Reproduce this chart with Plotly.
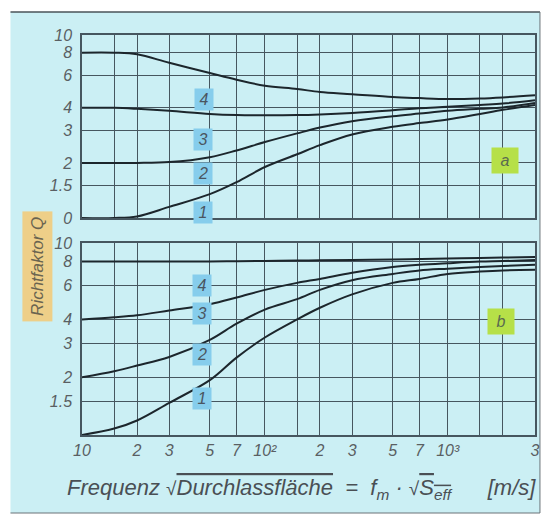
import numpy as np
import plotly.graph_objects as go

# ---------------- data ----------------
x_vals = [10, 15, 20, 30, 50, 70, 100, 150, 200, 300, 500, 700, 1000, 1500, 2000, 3000]

# panel a
a_curve1 = [1.0, 1.0, 1.02, 1.15, 1.35, 1.57, 1.9, 2.23, 2.5, 2.86, 3.15, 3.3, 3.45, 3.7, 3.9, 4.15]
a_curve2 = [2.0, 2.0, 2.0, 2.02, 2.15, 2.34, 2.6, 2.9, 3.12, 3.38, 3.6, 3.72, 3.85, 3.95, 4.02, 4.25]
a_curve3 = [4.0, 4.0, 3.95, 3.85, 3.7, 3.65, 3.64, 3.65, 3.68, 3.75, 3.88, 3.98, 4.05, 4.15, 4.22, 4.4]
a_curve4 = [8.0, 8.0, 7.85, 7.05, 6.2, 5.7, 5.28, 5.07, 4.88, 4.75, 4.58, 4.52, 4.47, 4.5, 4.56, 4.68]

# panel b
b_curve1 = [1.0, 1.08, 1.19, 1.47, 1.93, 2.53, 3.22, 4.0, 4.6, 5.4, 6.2, 6.5, 6.9, 7.1, 7.2, 7.25]
b_curve2 = [2.0, 2.15, 2.3, 2.55, 3.13, 3.8, 4.5, 5.1, 5.7, 6.4, 6.9, 7.2, 7.35, 7.5, 7.6, 7.7]
b_curve3 = [4.0, 4.1, 4.2, 4.45, 4.8, 5.2, 5.7, 6.2, 6.5, 7.0, 7.5, 7.7, 7.85, 8.0, 8.05, 8.15]
b_curve4 = [8.0, 8.0, 8.0, 8.0, 8.02, 8.04, 8.06, 8.1, 8.12, 8.15, 8.2, 8.25, 8.3, 8.35, 8.4, 8.45]

curve_labels = ["1", "2", "3", "4"]
panel_labels = ["a", "b"]

x_tickvals = [10, 20, 30, 50, 70, 100, 200, 300, 500, 700, 1000, 3000]
x_ticktext = ["10", "2", "3", "5", "7", "10²", "2", "3", "5", "7", "10³", "3"]
x_minor_grid = [15, 150, 1500, 2000]
y_tickvals_a = [1, 1.5, 2, 3, 4, 6, 8, 10]
y_ticktext_a = ["0", "1.5", "2", "3", "4", "6", "8", "10"]
y_tickvals_b = [1.5, 2, 3, 4, 6, 8, 10]
y_ticktext_b = ["1.5", "2", "3", "4", "6", "8", "10"]

y_title = "Richtfaktor Q"
SP = "&nbsp;"
x_title = ("Frequenz" + SP + "<span style='font-size:19px'>√</span>"
           "<span style='text-decoration:overline'>Durchlassfläche</span>"
           + SP * 2 + "=" + SP * 2 + "f<sub>m</sub>" + SP + "·" + SP
           + "<span style='font-size:19px'>√</span>"
           "<span style='text-decoration:overline'>S<sub>eff</sub></span>"
           + SP * 6 + "[m/s]")

# ---------------- style ----------------
BG = "#cbeff4"
GRID = "#46565f"
CURVE = "#1c262c"
TXT = "#5a5f63"
FONT = "Liberation Sans"

fig = go.Figure()

for ys in [a_curve1, a_curve2, a_curve3, a_curve4]:
    fig.add_trace(go.Scatter(x=x_vals, y=ys, mode="lines", xaxis="x", yaxis="y",
                             line=dict(color=CURVE, width=2, shape="spline", smoothing=1.0),
                             hoverinfo="skip", showlegend=False))
for ys in [b_curve1, b_curve2, b_curve3, b_curve4]:
    fig.add_trace(go.Scatter(x=x_vals, y=ys, mode="lines", xaxis="x2", yaxis="y2",
                             line=dict(color=CURVE, width=2, shape="spline", smoothing=1.0),
                             hoverinfo="skip", showlegend=False))

tickfont = dict(family=FONT, size=16, color=TXT, style="italic")

xcommon = dict(type="log", range=[1, np.log10(3000)], tickmode="array", tickvals=x_tickvals,
               ticktext=x_ticktext, showgrid=True, gridcolor=GRID, gridwidth=1,
               minor=dict(tickmode="array", tickvals=x_minor_grid, showgrid=True,
                          gridcolor=GRID, gridwidth=1, ticks=""),
               showline=True, linecolor=GRID, linewidth=1.5, mirror=True, zeroline=False,
               ticks="", tickfont=tickfont)
ycommon = dict(type="log", range=[0, 1], tickmode="array",
               showgrid=True, gridcolor=GRID, gridwidth=1, showline=True, linecolor=GRID,
               linewidth=1.5, mirror=True, zeroline=False, ticks="outside", ticklen=5,
               tickcolor="rgba(0,0,0,0)", tickfont=tickfont)

L, R, T, B = 82, 14, 35, 84
W, H = 552, 519
PW, PH = W - L - R, H - T - B


def px(xp):
    return (xp - L) / PW


def py(yp):
    return (H - B - yp) / PH


fig.update_layout(
    width=W, height=H,
    margin=dict(l=L, r=R, t=T, b=B),
    paper_bgcolor="white",
    plot_bgcolor="rgba(0,0,0,0)",
    xaxis=dict(xcommon, anchor="y", showticklabels=False),
    yaxis=dict(ycommon, domain=[py(218), 1.0], tickvals=y_tickvals_a, ticktext=y_ticktext_a, anchor="x"),
    xaxis2=dict(xcommon, anchor="y2"),
    yaxis2=dict(ycommon, domain=[0, py(243)], tickvals=y_tickvals_b, ticktext=y_ticktext_b, anchor="x2"),
    showlegend=False,
)

shapes = [
    dict(type="rect", xref="paper", yref="paper", x0=px(10), x1=px(543), y0=py(513), y1=py(12),
         fillcolor=BG, line=dict(width=0), layer="below"),
    dict(type="line", xref="paper", yref="paper", x0=px(10), x1=px(543), y0=py(12), y1=py(12),
         line=dict(color="#4a5358", width=1.5)),
    dict(type="line", xref="paper", yref="paper", x0=px(543), x1=px(543), y0=py(12), y1=py(513),
         line=dict(color="#6a7378", width=1)),
    dict(type="line", xref="paper", yref="paper", x0=px(10), x1=px(543), y0=py(513), y1=py(513),
         line=dict(color="#6a7378", width=1)),
]
fig.update_layout(shapes=shapes)

annotations = []
label_font = dict(family=FONT, size=16, color="#4a5560", style="italic")
top_pos = [(194, 213), (194, 173), (194, 128), (195, 88)]
bot_pos = [(193, 410), (193, 366), (193, 325), (193, 285)]
for pos in (top_pos, bot_pos):
    for lab, (xx, yy) in zip(curve_labels, pos):
        annotations.append(dict(x=px(xx), y=py(yy), xref="paper", yref="paper", text=lab,
                                showarrow=False, font=label_font, bgcolor="#86cdec",
                                borderpad=1, width=16, height=19))
for lab, (xx, yy) in zip(panel_labels, [(522, 147), (518, 335)]):
    annotations.append(dict(x=px(xx), y=py(yy), xref="paper", yref="paper",
                            text=SP + lab + SP,
                            showarrow=False, font=dict(family=FONT, size=16, color="#5a6a50", style="italic"),
                            bgcolor="#b6e048", borderpad=4))

annotations.append(dict(x=px(21), y=py(266), xref="paper", yref="paper", text=y_title,
                        textangle=-90, showarrow=False, bgcolor="#eecf88",
                        font=dict(family=FONT, size=17, color="#6a6450", style="italic"),
                        borderpad=5))
annotations.append(dict(x=px(303), y=py(505), xref="paper", yref="paper", text=x_title,
                        showarrow=False,
                        font=dict(family=FONT, size=22, color="#4a4f54", style="italic")))
fig.update_layout(annotations=annotations)

fig.write_html("out.html", post_script="document.body.style.margin='0px';",
               config={"displayModeBar": False})
